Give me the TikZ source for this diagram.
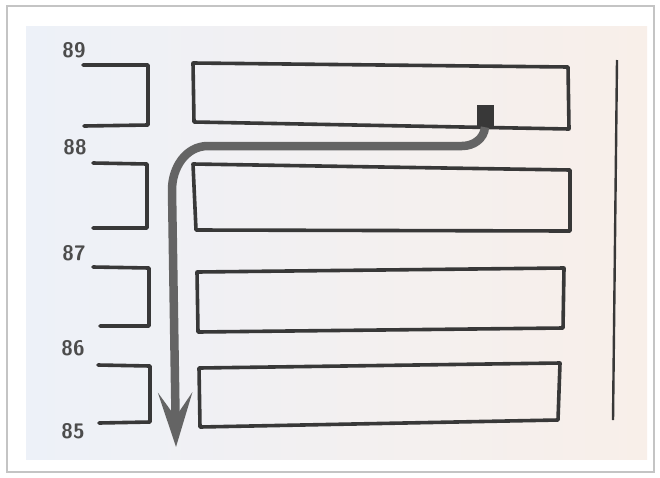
\documentclass[tikz,border=0pt]{standalone}
\usetikzlibrary{arrows.meta}

\definecolor{ink}{HTML}{383838}
\definecolor{pencil}{HTML}{646464}
\definecolor{paperL}{HTML}{EDF1F8}
\definecolor{paperM}{HTML}{F9F8F7}
\definecolor{paperR}{HTML}{F8EFE9}
\definecolor{frame}{HTML}{C4C4C4}

\begin{document}
\begin{tikzpicture}[x=1pt, y=-1pt,
			wall/.style = {ink, line width=3.6pt, line join=round, line cap=round},
			floornum/.style = {font=\sffamily\bfseries\fontsize{21}{21}\selectfont, text=ink!90, inner sep=0pt},
			flow/.style = {pencil, line width=8.5pt, -{Stealth[length=54pt, width=34pt, inset=24pt]}}]

			\useasboundingbox (0,0) rectangle (660,477);

			% photo frame and page
			\fill [white] (0,0) rectangle (660,477);
			\draw [frame, line width=1.4pt] (7,6) rectangle (654,472);
			\shade [left color=paperL, middle color=paperM, right color=paperR] (26,26) rectangle (647,459);

			% floor numbers
			\node [floornum] (f89) at (74,50) {89};
			\node [floornum] (f88) at (75,147) {88};
			\node [floornum] (f87) at (74,253) {87};
			\node [floornum] (f86) at (73,348) {86};
			\node [floornum] (f85) at (73,431) {85};

			% short stubs on the left
			\draw [wall] (83,65) -- (148,65) -- (148,125) -- (84,126);
			\draw [wall] (93,163) -- (147,164) -- (147,228) -- (93,228);
			\draw [wall] (93,267) -- (149,268) -- (149,326) -- (100,326);
			\draw [wall] (98,365) -- (150,366) -- (150,422) -- (99,423);

			% the long boxes
			\draw [wall] (193,63) -- (568,67) -- (569,129) -- (194,122) -- cycle;
			\draw [wall] (193,164) -- (570,170) -- (570,231) -- (196,230) -- cycle;
			\draw [wall] (197,272) -- (564,268) -- (563,328) -- (198,332) -- cycle;
			\draw [wall] (199,368) -- (560,363) -- (558,420) -- (200,427) -- cycle;

			% right hand line
			\draw [ink, line width=2.4pt] (617,60) -- (613,420);

			% the route down
			\node [fill=ink, minimum width=17pt, minimum height=22pt, inner sep=0pt] (start) at (485,116) {};
			\coordinate (bendA) at (462,146);
			\coordinate (bendB) at (208,146);
			\coordinate (drop) at (172,190);
			\coordinate (tip) at (176,447);
			\draw [flow] (start.south) to [out=-95, in=0] (bendA) -- (bendB) to [out=180, in=90] (drop) -- (tip);
		\end{tikzpicture}
\end{document}
